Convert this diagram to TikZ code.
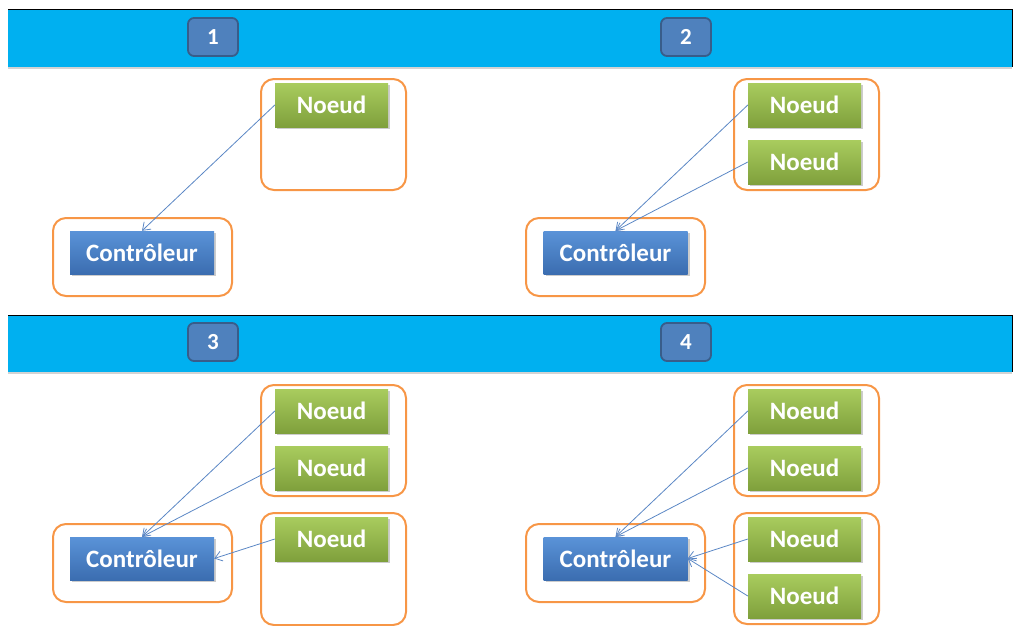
\documentclass[tikz,border=0pt]{standalone}
\usepackage{fontspec}
\setmainfont{Carlito}
\usetikzlibrary{shadows,arrows.meta}
\definecolor{banner}{HTML}{00B0F0}
\definecolor{badgefill}{HTML}{4F81BD}
\definecolor{badgeline}{HTML}{385D8A}
\definecolor{grtop}{HTML}{A9CC5E}
\definecolor{grbot}{HTML}{7FA03C}
\definecolor{bltop}{HTML}{5A93D8}
\definecolor{blbot}{HTML}{3B6DB0}
\definecolor{grp}{HTML}{F79646}
\definecolor{arrc}{HTML}{5B87C5}
\tikzset{
  bannerbox/.style={fill=banner, draw=none, drop shadow={shadow xshift=0pt, shadow yshift=-2pt, opacity=0.35}},
  badge/.style={fill=badgefill, draw=badgeline, line width=1.8pt, rounded corners=6pt, minimum width=50pt, minimum height=38pt, text=white, font=\fontsize{23}{25}\selectfont\bfseries, inner sep=0pt},
  noeud/.style={top color=grtop, bottom color=grbot, draw=none, minimum width=113pt, minimum height=44pt, text=white, font=\fontsize{25}{27}\selectfont\bfseries, inner sep=0pt, drop shadow={shadow xshift=2pt, shadow yshift=-2pt, opacity=0.4}},
  ctrl/.style={top color=bltop, bottom color=blbot, draw=none, minimum width=144pt, minimum height=43pt, text=white, font=\fontsize{25}{27}\selectfont\bfseries, inner sep=0pt, drop shadow={shadow xshift=2pt, shadow yshift=-2pt, opacity=0.4}},
  grpbox/.style={draw=grp, line width=2pt, rounded corners=13pt, fill=none},
  arr/.style={draw=arrc, line width=0.8pt, -{Straight Barb[length=7pt,width=10pt]}},
}
\begin{document}
\begin{tikzpicture}[x=1pt,y=-1pt]
\useasboundingbox (0,0) rectangle (1014,626);
% banners
\node[bannerbox, minimum width=1004pt, minimum height=57pt, inner sep=0pt] (ban1) at (510,38.5) {};
\draw[black, line width=1pt] (8,10) -- (1012,10) -- (1012,67);
\node[bannerbox, minimum width=1004pt, minimum height=57pt, inner sep=0pt] (ban2) at (510,343.5) {};
\draw[black, line width=1pt] (8,315) -- (1012,315) -- (1012,372);
\node[badge] (b1) at (213,37) {1};
\node[badge] (b2) at (686,37) {2};
\node[badge] (b3) at (213,342) {3};
\node[badge] (b4) at (686,342) {4};
% group boxes
\draw[grpbox] (261,79) rectangle (406,190);
\draw[grpbox] (53,218) rectangle (232,296);
\draw[grpbox] (734,79) rectangle (879,190);
\draw[grpbox] (526,218) rectangle (705,296);
\draw[grpbox] (261,385) rectangle (406,496);
\draw[grpbox] (261,513) rectangle (406,625);
\draw[grpbox] (53,524) rectangle (232,602);
\draw[grpbox] (734,385) rectangle (879,496);
\draw[grpbox] (734,513) rectangle (879,624);
\draw[grpbox] (526,524) rectangle (705,602);
% panel 1
\node[noeud] (p1n1) at (331.5,105) {Noeud};
\node[ctrl] (p1c) at (142,252.5) {Contrôleur};
\draw[arr] (p1n1.west) -- (p1c.north);
% panel 2
\node[noeud] (p2n1) at (804.5,105) {Noeud};
\node[noeud] (p2n2) at (804.5,162) {Noeud};
\node[ctrl] (p2c) at (615.5,252.5) {Contrôleur};
\draw[arr] (p2n1.west) -- (p2c.north);
\draw[arr] (p2n2.west) -- (p2c.north);
% panel 3
\node[noeud] (p3n1) at (331.5,411) {Noeud};
\node[noeud] (p3n2) at (331.5,468) {Noeud};
\node[noeud] (p3n3) at (331.5,539) {Noeud};
\node[ctrl] (p3c) at (142,558.5) {Contrôleur};
\draw[arr] (p3n1.west) -- (p3c.north);
\draw[arr] (p3n2.west) -- (p3c.north);
\draw[arr] (p3n3.west) -- (p3c.east);
% panel 4
\node[noeud] (p4n1) at (804.5,411) {Noeud};
\node[noeud] (p4n2) at (804.5,468) {Noeud};
\node[noeud] (p4n3) at (804.5,539) {Noeud};
\node[noeud] (p4n4) at (804.5,596) {Noeud};
\node[ctrl] (p4c) at (615.5,558.5) {Contrôleur};
\draw[arr] (p4n1.west) -- (p4c.north);
\draw[arr] (p4n2.west) -- (p4c.north);
\draw[arr] (p4n3.west) -- (p4c.east);
\draw[arr] (p4n4.west) -- (p4c.east);
\end{tikzpicture}
\end{document}
